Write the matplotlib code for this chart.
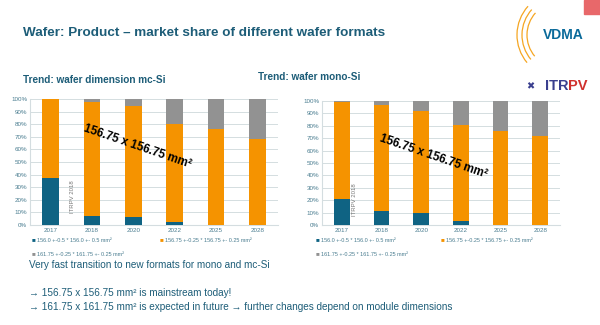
import matplotlib
matplotlib.use("Agg")
import matplotlib.pyplot as plt
import numpy as np
from matplotlib.patches import Arc

years = ["2017", "2018", "2020", "2022", "2025", "2028"]
mc_156_0 = [37, 7.5, 6, 2.5, 0, 0]
mc_156_75 = [63, 90.5, 88.5, 78, 76, 68.5]
mc_161_75 = [0, 2, 5.5, 19.5, 24, 31.5]
mono_156_0 = [21, 11, 10, 3, 0, 0]
mono_156_75 = [78, 85.5, 82, 77.5, 75.5, 72]
mono_161_75 = [1, 3.5, 8, 19.5, 24.5, 28]
legend_labels = ["156.0 +-0.5 * 156.0 +- 0.5 mm²",
                 "156.75 +-0.25 * 156.75 +- 0.25 mm²",
                 "161.75 +-0.25 * 161.75 +- 0.25 mm²"]

BLUE = "#0f6383"
ORANGE = "#f59300"
GRAY = "#929292"
TEAL = "#1d5d78"
TICK = "#4a7d90"

W, H = 600, 325
fig = plt.figure(figsize=(6, 3.25), dpi=100)
plt.rcParams['font.family'] = ['Liberation Sans', 'DejaVu Sans']

def ax_rect(x0, y0, x1, y1):
    return [x0 / W, 1 - y1 / H, (x1 - x0) / W, (y1 - y0) / H]

def draw(ax, a, b, c):
    x = np.arange(len(years))
    a = np.array(a); b = np.array(b); c = np.array(c)
    ax.bar(x, a, width=0.4, color=BLUE, zorder=3)
    ax.bar(x, b, width=0.4, bottom=a, color=ORANGE, zorder=3)
    ax.bar(x, c, width=0.4, bottom=a + b, color=GRAY, zorder=3)
    ax.set_xlim(-0.5, len(years) - 0.5)
    ax.set_ylim(0, 100)
    ax.set_yticks(np.arange(0, 101, 10))
    ax.set_yticklabels([f"{v}%" for v in range(0, 101, 10)])
    ax.set_xticks(x)
    ax.set_xticklabels(years)
    ax.tick_params(axis='both', length=0, labelsize=4.5, colors=TICK, pad=2)
    ax.yaxis.grid(True, color="#d4dde0", linewidth=0.7, zorder=0)
    for s in ["top", "right"]:
        ax.spines[s].set_visible(False)
    ax.spines["left"].set_color("#d4dde0")
    ax.spines["bottom"].set_color("#d4dde0")

ax1 = fig.add_axes(ax_rect(30, 99, 278, 225))
draw(ax1, mc_156_0, mc_156_75, mc_161_75)
ax2 = fig.add_axes(ax_rect(322, 101, 560, 225))
draw(ax2, mono_156_0, mono_156_75, mono_161_75)

# title and subtitles
fig.text(23 / W, 1 - 33 / H, "Wafer: Product – market share of different wafer formats",
         fontsize=9.7, fontweight="bold", color=TEAL, va="center", ha="left")
fig.text(23 / W, 1 - 80 / H, "Trend: wafer dimension mc-Si", fontsize=7.2,
         fontweight="bold", color=TEAL, va="center", ha="left")
fig.text(258 / W, 1 - 77 / H, "Trend: wafer mono-Si", fontsize=7.2,
         fontweight="bold", color=TEAL, va="center", ha="left")

# rotated annotations
fig.text(137 / W, 1 - 147 / H, "156.75 x 156.75 mm²", fontsize=8.5, fontweight="bold",
         rotation=-19, ha="center", va="center", color="black")
fig.text(433 / W, 1 - 157 / H, "156.75 x 156.75 mm²", fontsize=8.5, fontweight="bold",
         rotation=-19, ha="center", va="center", color="black")
fig.text(72 / W, 1 - 197 / H, "ITRPV 2018", fontsize=4.3, rotation=90,
         ha="center", va="center", color="#777777")
fig.text(355 / W, 1 - 200 / H, "ITRPV 2018", fontsize=4.3, rotation=90,
         ha="center", va="center", color="#777777")

# legends
colors = [BLUE, ORANGE, GRAY]
for (lx0, lx1) in [(32, 160), (316, 441)]:
    pos = [(lx0, 240), (lx1, 240), (lx0, 254)]
    for (px, py), col, lab in zip(pos, colors, legend_labels):
        fig.text(px / W, 1 - py / H, "■", fontsize=4.5, color=col, va="center", ha="left")
        fig.text((px + 5) / W, 1 - py / H, lab, fontsize=4, color=TICK, va="center", ha="left")

# bottom text
fig.text(29 / W, 1 - 265 / H, "Very fast transition to new formats for mono and mc-Si",
         fontsize=7.2, color=TEAL, va="center", ha="left")
fig.text(29 / W, 1 - 293 / H, "→ 156.75 x 156.75 mm² is mainstream today!",
         fontsize=7.2, color=TEAL, va="center", ha="left")
fig.text(29 / W, 1 - 307 / H,
         "→ 161.75 x 161.75 mm² is expected in future → further changes depend on module dimensions",
         fontsize=7.2, color=TEAL, va="center", ha="left")

# logos
fig.text(563 / W, 1 - 35 / H, "VDMA", fontsize=10, fontweight="bold", color="#0a6a9a",
         va="center", ha="center")
lax = fig.add_axes([0, 0, 1, 1], zorder=-1)
lax.set_xlim(0, W); lax.set_ylim(H, 0); lax.axis("off")
for r in [33, 38, 43]:
    lax.add_patch(Arc((560, 35), 2 * r, 2 * r, theta1=140, theta2=222,
                      color="#f5a623", lw=0.9))
fig.text(568 / W, 1 - 86 / H, "ITR", fontsize=10.5, fontweight="bold", color="#3a3f8f",
         va="center", ha="right")
fig.text(568 / W, 1 - 86 / H, "PV", fontsize=10.5, fontweight="bold", color="#d0312d",
         va="center", ha="left")
fig.text(530 / W, 1 - 86 / H, "✖", fontsize=7, color="#3a3f8f", va="center", ha="center")
lax.add_patch(plt.Rectangle((584, 0), 16, 14, color="#e8686a"))

fig.savefig("out.png", dpi=100)
